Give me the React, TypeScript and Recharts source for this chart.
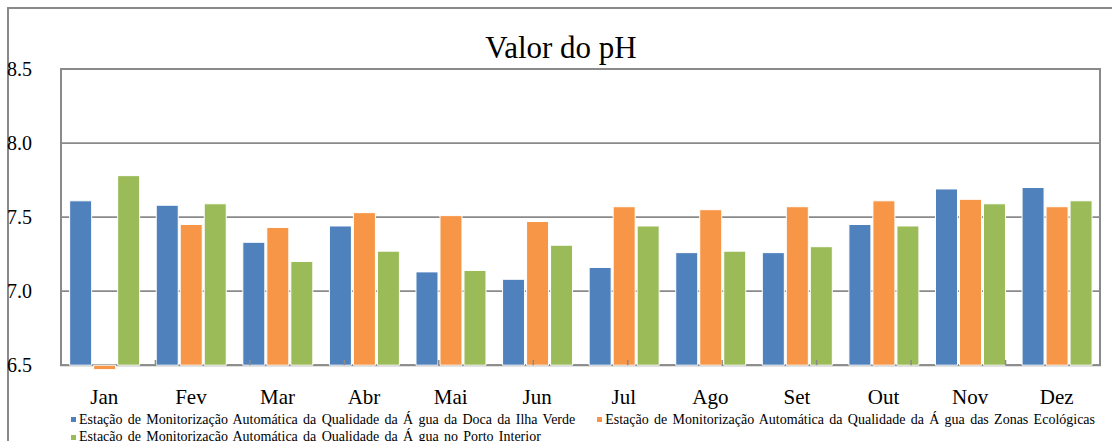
import { BarChart, Bar, XAxis, YAxis, CartesianGrid, ReferenceArea, ReferenceLine } from "recharts";

// meses e valores de pH
const months = ["Jan", "Fev", "Mar", "Abr", "Mai", "Jun", "Jul", "Ago", "Set", "Out", "Nov", "Dez"];
const docaIlhaVerde = [7.61, 7.58, 7.33, 7.44, 7.13, 7.08, 7.16, 7.26, 7.26, 7.45, 7.69, 7.70];
const zonasEcologicas = [6.47, 7.45, 7.43, 7.53, 7.51, 7.47, 7.57, 7.55, 7.57, 7.61, 7.62, 7.57];
const portoInterior = [7.78, 7.59, 7.2, 7.27, 7.14, 7.31, 7.44, 7.27, 7.3, 7.44, 7.59, 7.61];
const yTicks = [6.5, 7.0, 7.5, 8.0, 8.5];
const seriesNames = [
  "Estação de Monitorização Automática da Qualidade da Á gua da Doca da Ilha Verde",
  "Estação de Monitorização Automática da Qualidade da Á gua das Zonas Ecológicas",
  "Estação de Monitorização Automática da Qualidade da Á gua no Porto Interior",
];
const colors = ["#4F81BD", "#F79646", "#9BBB59"];

const BASE = 6.5;
const FONT = "'Liberation Serif', 'Times New Roman', 'DejaVu Serif', serif";
const GRID = "#8a8a8a";

// barras em intervalo [base, valor] para que Jan (abaixo de 6.5) desça do eixo
const data = months.map((m, i) => ({
  month: m,
  doca: [BASE, docaIlhaVerde[i]],
  zonas: [BASE, zonasEcologicas[i]],
  porto: [BASE, portoInterior[i]],
}));

// separadores entre meses
const separators = months.slice(1).map((_, i) => i + 1);

function LegendItem({ color, label }: { color: string; label: string }) {
  return (
    <span style={{ display: "inline-flex", alignItems: "center", whiteSpace: "nowrap" }}>
      <span style={{ width: 5, height: 5, background: color, marginRight: 3, display: "inline-block" }} />
      {label}
    </span>
  );
}

export default function App() {
  return (
    <div
      style={{
        position: "absolute",
        left: 0,
        top: 0,
        width: 1112,
        height: 441,
        overflow: "hidden",
        background: "#fff",
        fontFamily: FONT,
      }}
    >
      <div
        style={{
          position: "absolute",
          left: 7,
          top: 7,
          width: 1200,
          height: 500,
          border: "2px solid #8a8a8a",
        }}
      />
      <div
        style={{
          position: "absolute",
          left: 0,
          top: 33,
          width: 1122,
          textAlign: "center",
          fontFamily: FONT,
          fontSize: 31,
          lineHeight: "30px",
          color: "#000",
        }}
      >
        Valor do pH
      </div>
      <div style={{ position: "absolute", left: 0, top: 0 }}>
        <BarChart
          width={1112}
          height={441}
          data={data}
          margin={{ top: 69, right: 12, left: 8, bottom: 31 }}
          barCategoryGap="10%"
          barGap={2}
        >
          <CartesianGrid vertical={false} syncWithTicks stroke={GRID} strokeWidth={1.8} />
          <XAxis
            dataKey="month"
            axisLine={false}
            tickLine={false}
            tickMargin={3}
            height={30}
            interval={0}
            tick={{ fontSize: 21, fill: "#000", fontFamily: FONT }}
          />
          <XAxis xAxisId="sep" type="number" domain={[0, 12]} hide />
          <YAxis
            domain={[6.4, 8.5]}
            allowDataOverflow
            ticks={yTicks}
            tickFormatter={(v: number) => v.toFixed(1)}
            axisLine={false}
            tickLine={false}
            width={53}
            tickMargin={23}
            tick={{ fontSize: 20, fill: "#000", fontFamily: FONT }}
          />
          <Bar dataKey="doca" fill={colors[0]} stroke="#fff" strokeWidth={1} isAnimationActive={false} />
          <Bar dataKey="zonas" fill={colors[1]} stroke="#fff" strokeWidth={1} isAnimationActive={false} />
          <Bar dataKey="porto" fill={colors[2]} stroke="#fff" strokeWidth={1} isAnimationActive={false} />
          <ReferenceArea y1={6.5} y2={8.5} fill="none" stroke={GRID} strokeWidth={2} ifOverflow="visible" />
          {separators.map((s) => (
            <ReferenceLine
              key={s}
              xAxisId="sep"
              segment={[
                { x: s, y: 6.5 },
                { x: s, y: 6.535 },
              ]}
              stroke={GRID}
              strokeWidth={1.5}
            />
          ))}
        </BarChart>
      </div>
      <div
        style={{
          position: "absolute",
          left: 71,
          top: 410,
          fontFamily: FONT,
          fontSize: 14,
          lineHeight: "16px",
          wordSpacing: 1.8,
          color: "#000",
        }}
      >
        <div>
          <LegendItem color={colors[0]} label={seriesNames[0]} />
          <span style={{ display: "inline-block", width: 22 }} />
          <LegendItem color={colors[1]} label={seriesNames[1]} />
        </div>
        <div>
          <LegendItem color={colors[2]} label={seriesNames[2]} />
        </div>
      </div>
    </div>
  );
}
